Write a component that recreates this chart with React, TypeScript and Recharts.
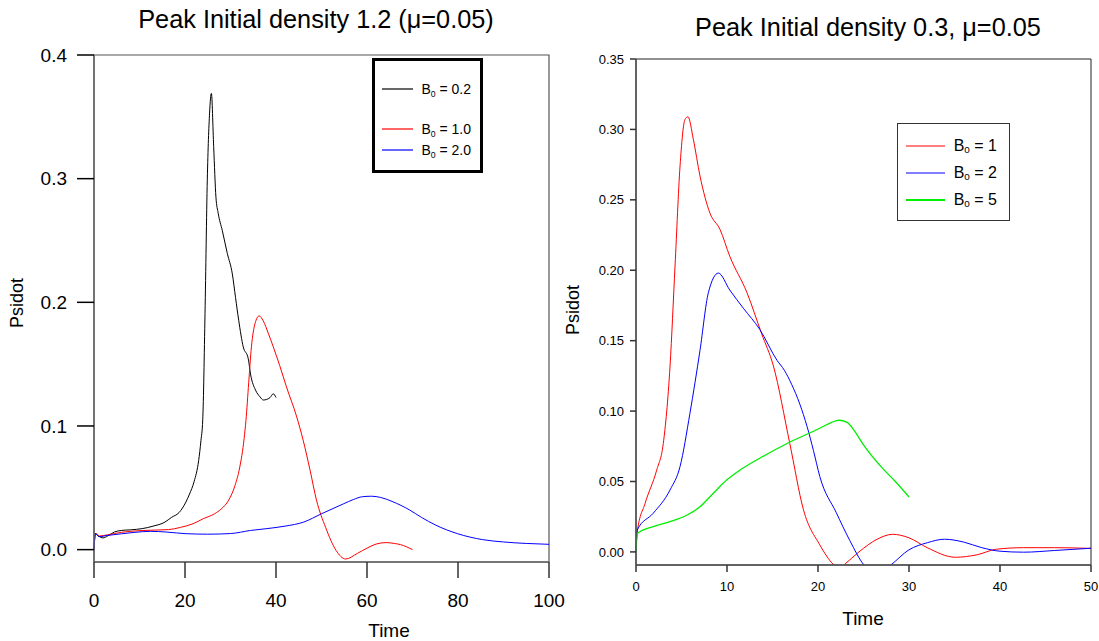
import { LineChart, Line, XAxis, YAxis, Legend, ReferenceArea } from 'recharts';

const FONT = '"Liberation Sans", Arial, Helvetica, sans-serif';

// left panel: peak initial density 1.2 (mu = 0.05)
const leftXTicks = [0, 20, 40, 60, 80, 100];
const leftYTicks = [0, 0.1, 0.2, 0.3, 0.4];

const leftB02Time = [0, 0.3, 1, 2, 3, 4.5, 6, 8, 10.6, 13, 15.6, 17, 18.7, 20.2, 21, 22, 23, 23.5, 23.9, 24.4, 24.9, 25.4, 25.8, 26.3, 26.8, 27.3, 28.2, 29.3, 30.4, 31.1, 31.8, 32.8, 33.9, 34.4, 35.5, 36.5, 37.2, 37.9, 38.7, 39.4, 40];
const leftB02Psidot = [0, 0.013, 0.011, 0.0095, 0.011, 0.0143, 0.0155, 0.016, 0.017, 0.019, 0.0223, 0.026, 0.03, 0.0385, 0.045, 0.055, 0.072, 0.088, 0.105, 0.191, 0.299, 0.353, 0.369, 0.326, 0.285, 0.272, 0.258, 0.2395, 0.223, 0.204, 0.1855, 0.164, 0.1545, 0.142, 0.129, 0.1235, 0.121, 0.1214, 0.123, 0.126, 0.123];

const leftB10Time = [0, 0.3, 1.2, 3, 6, 10.8, 16.4, 19, 21.8, 24, 26.5, 28, 29.6, 31, 32, 33, 33.4, 34, 34.6, 35.4, 36.3, 37.2, 38.3, 39.4, 40.8, 42.3, 44.5, 46, 47.5, 48.9, 50.9, 53.2, 55.3, 57.9, 60.2, 62, 64.2, 66, 67.4, 70];
const leftB10Psidot = [0, 0.013, 0.011, 0.012, 0.014, 0.0155, 0.0162, 0.018, 0.021, 0.025, 0.029, 0.033, 0.04, 0.052, 0.066, 0.09, 0.1046, 0.135, 0.164, 0.183, 0.189, 0.185, 0.175, 0.164, 0.149, 0.1316, 0.108, 0.088, 0.064, 0.04, 0.018, -0.0006, -0.0076, -0.003, 0.0016, 0.0045, 0.0057, 0.005, 0.004, 0];

const leftB20Time = [0, 0.3, 1.1, 3, 6, 9, 12.4, 16, 20.2, 25, 30, 34.4, 38, 42, 46.1, 50, 54.8, 57, 59, 61, 63, 65.5, 69.4, 72, 75, 79.9, 85.4, 90, 95, 100];
const leftB20Psidot = [0, 0.013, 0.0105, 0.0115, 0.0128, 0.014, 0.0148, 0.0142, 0.0129, 0.0125, 0.013, 0.0155, 0.017, 0.019, 0.0223, 0.029, 0.037, 0.0405, 0.0428, 0.0432, 0.0422, 0.039, 0.032, 0.026, 0.02, 0.0129, 0.0081, 0.0062, 0.005, 0.0043];

// right panel: peak initial density 0.3, mu = 0.05
const rightXTicks = [0, 10, 20, 30, 40, 50];
const rightYTicks = [0, 0.05, 0.1, 0.15, 0.2, 0.25, 0.3, 0.35];

const rightB1Time = [0, 0.14, 1, 2.27, 3, 3.74, 4.29, 4.84, 5.38, 5.71, 6.3, 7.03, 8.13, 9.23, 10.3, 12.2, 13.8, 15.1, 16.9, 18.4, 20.2, 21.7, 22.3, 22.9, 24.5, 26.5, 28.2, 30, 32, 35.1, 37.5, 39.6, 42.6, 46, 50];
const rightB1Psidot = [0, 0.0144, 0.0345, 0.058, 0.077, 0.132, 0.203, 0.274, 0.307, 0.309, 0.293, 0.267, 0.2405, 0.229, 0.21, 0.184, 0.155, 0.132, 0.077, 0.03, 0.005, -0.009, -0.012, -0.009, 0.0, 0.009, 0.0125, 0.01, 0.003, -0.0038, -0.002, 0.0019, 0.003, 0.003, 0.0025];

const rightB2Time = [0, 0.14, 1.9, 3.74, 4.84, 5.93, 7.03, 7.95, 9.05, 10.3, 11.8, 13.6, 15.5, 16.3, 17.1, 18, 18.8, 19.5, 20.2, 22, 23.5, 25.05, 26.5, 28, 30, 32, 33.9, 36, 38, 40, 42.6, 46, 50];
const rightB2Psidot = [0, 0.0156, 0.0275, 0.044, 0.0606, 0.0985, 0.143, 0.184, 0.198, 0.186, 0.173, 0.158, 0.136, 0.129, 0.119, 0.105, 0.089, 0.072, 0.0535, 0.028, 0.008, -0.0093, -0.016, -0.0093, 0.0015, 0.0065, 0.009, 0.007, 0.003, 0.0005, -0.0002, 0.001, 0.0026];

const rightB5Time = [0, 0.14, 1.9, 3.74, 5.57, 7.03, 8.5, 9.96, 11.4, 13.6, 16.6, 20.2, 21.5, 22.3, 23.2, 24, 25, 27, 28.5, 30];
const rightB5Psidot = [0, 0.013, 0.018, 0.0215, 0.026, 0.032, 0.0417, 0.051, 0.058, 0.0665, 0.077, 0.0878, 0.092, 0.0935, 0.092, 0.086, 0.076, 0.06, 0.05, 0.039];

function toPoints(time: number[], psidot: number[]) {
    return time.map((t, i) => ({ t, v: psidot[i] }));
}

interface LegendCfg {
    rows: number[];
    lineFrom: number;
    lineTo: number;
    textX: number;
    fontSize: number;
    border: string;
}

function makeLegend(cfg: LegendCfg) {
    return function BoxLegend(props: any) {
        const payload = props.payload ?? [];
        const w = cfg.lineTo - cfg.lineFrom;
        return (
            <div style={{
                position: 'relative', width: '100%', height: '100%', boxSizing: 'border-box',
                border: cfg.border, background: '#fff', fontFamily: FONT, color: '#000',
            }}>
                {payload.map((p: any, i: number) => {
                    const sw = (p.payload?.strokeWidth ?? 1) > 1 ? 2 : 1.2;
                    const cy = cfg.rows[i];
                    return (
                        <div key={p.value}>
                            <svg width={w} height={6} style={{ position: 'absolute', left: cfg.lineFrom, top: cy - 3 }}>
                                <line x1={0} x2={w} y1={3} y2={3} stroke={p.color} strokeWidth={sw} />
                            </svg>
                            <span style={{
                                position: 'absolute', left: cfg.textX, top: cy, transform: 'translateY(-50%)',
                                fontSize: cfg.fontSize, lineHeight: 1, whiteSpace: 'nowrap',
                            }}>
                                B<span style={{ fontSize: '0.62em', position: 'relative', top: '0.3em' }}>0</span> = {p.value}
                            </span>
                        </div>
                    );
                })}
            </div>
        );
    };
}

// offsets are measured inside the border of each legend frame
const LeftLegend = makeLegend({ rows: [28, 68, 89], lineFrom: 7, lineTo: 38, textX: 46.4, fontSize: 14, border: '3px solid #000' });
const RightLegend = makeLegend({ rows: [21.5, 48.5, 75.5], lineFrom: 8, lineTo: 47, textX: 55.7, fontSize: 16, border: '1px solid #333' });

function LeftPanel() {
    return (
        <LineChart width={590} height={641} margin={{ top: 55, right: 41, bottom: 0, left: 0 }}>
            <XAxis dataKey="t" type="number" domain={[0, 100]} ticks={leftXTicks} height={79}
                stroke="#666" strokeWidth={1.5} tickSize={16} tickMargin={16}
                tickLine={{ stroke: '#333' }} tick={{ fill: '#000', fontSize: 19, fontFamily: FONT }} />
            <YAxis type="number" domain={[-0.01, 0.4]} ticks={leftYTicks} width={94}
                stroke="#666" strokeWidth={1.5} tickSize={17} tickMargin={10}
                tickLine={{ stroke: '#000' }} tickFormatter={(v: number) => v.toFixed(1)}
                tick={{ fill: '#000', fontSize: 19, fontFamily: FONT }} />
            <ReferenceArea x1={0} x2={100} y1={-0.01} y2={0.4} fill="none" stroke="#555" strokeWidth={1.2} ifOverflow="visible" />
            <Line data={toPoints(leftB02Time, leftB02Psidot)} dataKey="v" name="0.2" type="monotone"
                stroke="#000" strokeWidth={1} dot={false} isAnimationActive={false} />
            <Line data={toPoints(leftB10Time, leftB10Psidot)} dataKey="v" name="1.0" type="monotone"
                stroke="#ff0000" strokeWidth={1} dot={false} isAnimationActive={false} />
            <Line data={toPoints(leftB20Time, leftB20Psidot)} dataKey="v" name="2.0" type="monotone"
                stroke="#0000ff" strokeWidth={1} dot={false} isAnimationActive={false} />
            <Legend layout="vertical" align="center" verticalAlign="middle" content={LeftLegend}
                wrapperStyle={{ left: 372, top: 58, width: 111, height: 115, margin: 0 }} />
        </LineChart>
    );
}

function RightPanel() {
    return (
        <LineChart width={539} height={641} margin={{ top: 59, right: 8, bottom: 0, left: 0 }}>
            <XAxis dataKey="t" type="number" domain={[0, 50]} ticks={rightXTicks} height={76}
                stroke="#555" strokeWidth={1.5} tickSize={7} tickMargin={10}
                tickLine={{ stroke: '#333' }} tick={{ fill: '#000', fontSize: 13, fontFamily: FONT }} />
            <YAxis type="number" domain={[-0.0093, 0.35]} ticks={rightYTicks} width={76} allowDataOverflow
                stroke="#555" strokeWidth={1.5} tickSize={6} tickMargin={6}
                tickLine={{ stroke: '#333' }} tickFormatter={(v: number) => v.toFixed(2)}
                tick={{ fill: '#000', fontSize: 13, fontFamily: FONT }} />
            <ReferenceArea x1={0} x2={50} y1={-0.0093} y2={0.35} fill="none" stroke="#222" strokeWidth={1} ifOverflow="visible" />
            <Line data={toPoints(rightB1Time, rightB1Psidot)} dataKey="v" name="1" type="monotone"
                stroke="#ff0000" strokeWidth={1} dot={false} isAnimationActive={false} />
            <Line data={toPoints(rightB2Time, rightB2Psidot)} dataKey="v" name="2" type="monotone"
                stroke="#0000ff" strokeWidth={1} dot={false} isAnimationActive={false} />
            <Line data={toPoints(rightB5Time, rightB5Psidot)} dataKey="v" name="5" type="monotone"
                stroke="#00ee00" strokeWidth={1.3} dot={false} isAnimationActive={false} />
            <Legend layout="vertical" align="center" verticalAlign="middle" content={RightLegend}
                wrapperStyle={{ left: 337, top: 123, width: 113, height: 98, margin: 0 }} />
        </LineChart>
    );
}

export default function App() {
    return (
        <div style={{ position: 'absolute', left: 0, top: 0, width: 1099, height: 641, background: '#fff', fontFamily: FONT }}>
            <div style={{ position: 'absolute', left: 0, top: 0 }}>
                <LeftPanel />
            </div>
            <div style={{ position: 'absolute', left: 560, top: 0 }}>
                <RightPanel />
            </div>
            <svg width={1099} height={641} style={{ position: 'absolute', left: 0, top: 0, pointerEvents: 'none' }}
                fontFamily={FONT} fill="#000">
                <text x={316} y={28} fontSize={25.3} textAnchor="middle">Peak Initial density 1.2 (μ=0.05)</text>
                <text x={868} y={36} fontSize={25.3} textAnchor="middle">Peak Initial density 0.3, μ=0.05</text>
                <text x={389} y={637} fontSize={19} textAnchor="middle">Time</text>
                <text x={863} y={625} fontSize={19} textAnchor="middle">Time</text>
                <text x={23} y={303} fontSize={18} textAnchor="middle" transform="rotate(-90 23 303)">Psidot</text>
                <text x={579} y={310} fontSize={18} textAnchor="middle" transform="rotate(-90 579 310)">Psidot</text>
            </svg>
        </div>
    );
}
